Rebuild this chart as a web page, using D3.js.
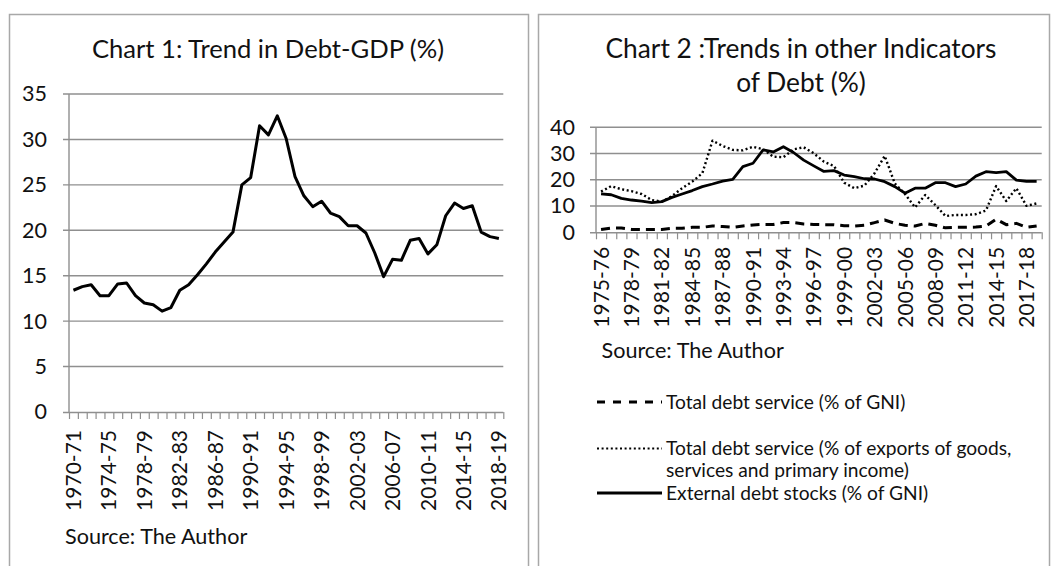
<!DOCTYPE html>
<html>
<head>
<meta charset="utf-8">
<script src="https://cdn.jsdelivr.net/npm/d3@7"></script>
<style>
  body { margin: 0; background: #fff; }
  svg { display: block; font-family: Lato, "Liberation Sans", sans-serif; }
</style>
</head>
<body>
<svg id="chart" width="1053" height="566"></svg>
<script>
// ── Data ───────────────────────────────────────────────────
// Chart 1: Debt-GDP (%), 1970-71 .. 2018-19
const gdpYears = d3.range(1970, 2019).map(y => `${y}-${String((y + 1) % 100).padStart(2, '0')}`);
const debtGdp = [
  13.4, 13.8, 14.0, 12.8, 12.8, 14.1, 14.2, 12.8, 12.0, 11.8,
  11.1, 11.5, 13.4, 14.0, 15.1, 16.3, 17.6, 18.7, 19.8, 25.0,
  25.8, 31.5, 30.5, 32.6, 30.1, 25.9, 23.8, 22.6, 23.2, 21.9,
  21.5, 20.5, 20.5, 19.7, 17.5, 14.9, 16.8, 16.7, 18.9, 19.1,
  17.4, 18.4, 21.6, 23.0, 22.4, 22.7, 19.8, 19.3, 19.1
];
const gdpTicks = [0, 5, 10, 15, 20, 25, 30, 35];

// Chart 2: other debt indicators (%), 1975-76 .. 2018-19
const indYears = d3.range(1975, 2019).map(y => `${y}-${String((y + 1) % 100).padStart(2, '0')}`);
const debtServiceGni = [
  1.1, 1.6, 1.6, 1.1, 1.1, 1.1, 1.1, 1.5, 1.5, 1.9,
  1.9, 2.4, 2.2, 1.9, 2.4, 2.8, 3.0, 3.0, 3.7, 3.7,
  3.2, 3.0, 2.9, 2.9, 2.5, 2.4, 2.7, 3.7, 4.7, 3.4,
  2.7, 2.4, 3.4, 2.7, 1.7, 1.9, 1.9, 2.0, 2.4, 5.0,
  2.9, 3.4, 1.9, 2.4
];
const debtServiceExports = [
  15.5, 17.6, 16.4, 15.7, 14.6, 12.3, 11.7, 13.8, 16.8, 19.3,
  22.5, 34.9, 32.9, 31.4, 31.2, 32.6, 31.6, 28.8, 28.6, 31.6,
  32.4, 30.1, 26.9, 25.2, 18.9, 16.8, 17.8, 22.5, 29.1, 18.6,
  14.6, 9.5, 14.2, 10.4, 6.2, 6.6, 6.6, 6.9, 8.3, 17.6,
  11.9, 16.8, 10.1, 11.0
];
const extDebtStocks = [
  14.6, 14.3, 12.9, 12.3, 11.9, 11.3, 11.7, 13.3, 14.6, 15.9,
  17.4, 18.4, 19.5, 20.2, 25.0, 26.3, 31.4, 30.6, 32.6, 30.4,
  27.5, 25.3, 23.2, 23.5, 21.8, 21.2, 20.4, 20.3, 19.3, 17.4,
  14.9, 16.8, 16.8, 18.9, 18.9, 17.4, 18.4, 21.4, 23.1, 22.7,
  23.1, 19.9, 19.4, 19.4
];
const indTicks = [0, 10, 20, 30, 40];

const legendLabels = [
  ['Total debt service (% of GNI)'],
  ['Total debt service (% of exports of goods,', 'services and primary income)'],
  ['External debt stocks (% of GNI)']
];

// ── Styles ─────────────────────────────────────────────────
const GRID = '#8f8f8f';
const FRAME = '#a8a8a8';
const INK = '#111';
const DASH = '9,6';
const DOTS = '2,2.6';

const svg = d3.select('#chart');

// ── Panel frames & titles ──────────────────────────────────
svg.append('rect')
  .attr('x', 9.5).attr('y', 14.5).attr('width', 519).attr('height', 600)
  .attr('fill', 'none').attr('stroke', FRAME).attr('stroke-width', 1.5);
svg.append('rect')
  .attr('x', 538.5).attr('y', 14.5).attr('width', 511).attr('height', 600)
  .attr('fill', 'none').attr('stroke', FRAME).attr('stroke-width', 1.5);

svg.append('text')
  .attr('x', 268).attr('y', 58)
  .attr('text-anchor', 'middle').attr('font-size', 25.6).attr('fill', INK)
  .text('Chart 1: Trend in Debt-GDP (%)');

const t2 = svg.append('text')
  .attr('text-anchor', 'middle').attr('font-size', 26.3).attr('fill', INK);
t2.append('tspan').attr('x', 801).attr('y', 58).text('Chart 2 :Trends in other Indicators');
t2.append('tspan').attr('x', 801).attr('y', 92).text('of Debt (%)');

// ── Line chart helper ──────────────────────────────────────
function drawLineChart(o) {
  const g = svg.append('g');
  const n = o.cats.length;
  const x = d3.scaleBand().domain(o.cats).range([o.left, o.right]);
  const xEdge = d3.scaleLinear().domain([0, n]).range([o.left, o.right]);
  const y = d3.scaleLinear().domain([0, o.yMax]).range([o.bottom, o.top]);
  const cx = c => x(c) + x.bandwidth() / 2;

  // gridlines (extend a little left of the axis like the tick marks)
  g.append('g').selectAll('line')
    .data(o.yTicks.filter(t => t > 0))
    .join('line')
    .attr('x1', o.left - 6).attr('x2', o.right)
    .attr('y1', d => y(d)).attr('y2', d => y(d))
    .attr('stroke', GRID).attr('stroke-width', 1.4);

  // y axis line
  g.append('line')
    .attr('x1', o.left).attr('x2', o.left)
    .attr('y1', o.top).attr('y2', o.bottom)
    .attr('stroke', GRID).attr('stroke-width', 1.4);

  // y labels
  const ya = g.append('g')
    .attr('transform', `translate(${o.left},0)`)
    .call(d3.axisLeft(y).tickValues(o.yTicks).tickSize(0).tickPadding(o.yPad));
  ya.select('.domain').remove();
  ya.selectAll('text')
    .attr('font-family', 'Lato, "Liberation Sans", sans-serif')
    .attr('font-size', 21.5).attr('fill', INK);

  // x axis: line + category boundary ticks
  const xa = g.append('g')
    .attr('transform', `translate(0,${o.bottom})`)
    .call(d3.axisBottom(xEdge).tickValues(d3.range(n + 1)).tickSize(7).tickSizeOuter(0).tickFormat(''));
  xa.select('.domain').attr('stroke', GRID).attr('stroke-width', 1.4)
    .attr('d', `M${o.left - 6},0.5H${o.right}`);
  xa.selectAll('.tick line').attr('stroke', GRID).attr('stroke-width', 1.2);

  // rotated category labels
  g.append('g').selectAll('text')
    .data(o.cats.filter((c, i) => i % o.labelEvery === 0))
    .join('text')
    .attr('transform', d => `translate(${cx(d)},${o.bottom + o.labelGap}) rotate(-90)`)
    .attr('text-anchor', 'end').attr('dy', '0.36em')
    .attr('font-size', 21).attr('fill', INK)
    .text(d => d);

  // series
  const line = d3.line().x((d, i) => cx(o.cats[i])).y(d => y(d));
  o.series.forEach(s => {
    g.append('path')
      .datum(s.values)
      .attr('d', line)
      .attr('fill', 'none')
      .attr('stroke', '#000')
      .attr('stroke-width', s.width)
      .attr('stroke-dasharray', s.dash || null)
      .attr('stroke-linejoin', 'round')
      .attr('stroke-linecap', 'butt');
  });
}

drawLineChart({
  cats: gdpYears, left: 69, right: 503.3, top: 94, bottom: 412,
  yMax: 35, yTicks: gdpTicks, yPad: 22, labelEvery: 4, labelGap: 18,
  series: [{ values: debtGdp, width: 3 }]
});

drawLineChart({
  cats: indYears, left: 596, right: 1041.7, top: 127.3, bottom: 232.3,
  yMax: 40, yTicks: indTicks, yPad: 21, labelEvery: 3, labelGap: 14.5,
  series: [
    { values: debtServiceGni, width: 3, dash: DASH },
    { values: debtServiceExports, width: 2.4, dash: DOTS },
    { values: extDebtStocks, width: 2.8 }
  ]
});

// ── Source notes ───────────────────────────────────────────
svg.append('text').attr('x', 65).attr('y', 543.5)
  .attr('font-size', 21.6).attr('fill', INK).text('Source: The Author');
svg.append('text').attr('x', 601.5).attr('y', 357.5)
  .attr('font-size', 21.6).attr('fill', INK).text('Source: The Author');

// ── Legend (chart 2) ───────────────────────────────────────
const legendRows = [
  { y: 402, dash: '8,8', width: 3, labels: legendLabels[0] },
  { y: 448.5, dash: DOTS, width: 2.2, labels: legendLabels[1] },
  { y: 493, dash: null, width: 3, labels: legendLabels[2] }
];
const lg = svg.append('g');
legendRows.forEach(r => {
  lg.append('line')
    .attr('x1', 597).attr('x2', 662).attr('y1', r.y).attr('y2', r.y)
    .attr('stroke', '#000').attr('stroke-width', r.width)
    .attr('stroke-dasharray', r.dash);
  r.labels.forEach((t, k) => {
    lg.append('text')
      .attr('x', 666).attr('y', r.y + k * 22).attr('dy', '0.35em')
      .attr('font-size', 19.2).attr('fill', INK).text(t);
  });
});
</script>
</body>
</html>
